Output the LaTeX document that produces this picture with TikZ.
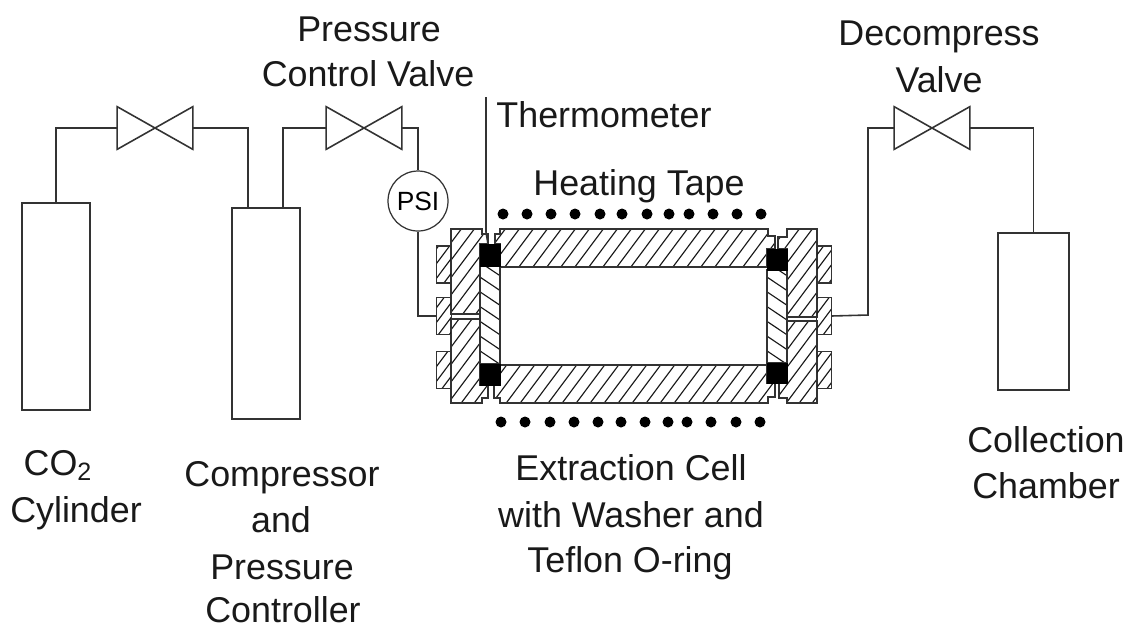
\documentclass[tikz,border=0pt]{standalone}
\usepackage{fontspec}
\setmainfont{Liberation Sans}
\tikzset{
	pipe/.style={draw=black!80,line width=0.9pt},
	vessel/.style={draw=black!80,line width=0.9pt,inner sep=0pt},
	valve/.style={inner sep=0pt,minimum width=1.5cm,minimum height=0.84cm},
	gauge/.style={circle,draw=black!80,line width=0.7pt,inner sep=0pt,minimum size=1.2cm,font=\fontsize{15}{17}\selectfont},
	outline/.style={draw=black!80,line width=0.9pt},
	hatchline/.style={draw=black!90,line width=0.65pt},
	bolt/.style={inner sep=0pt,minimum width=0.28cm,minimum height=0.72cm},
	oring/.style={fill=black,draw=black},
	heater/.style={circle,fill=black,inner sep=0pt,minimum size=0.22cm},
	lbl/.style={anchor=base,inner sep=0pt,text=black!90,font=\fontsize{20.4}{26}\selectfont},
}
% path, start, step, run of one line over the height of the cell
\newcommand{\hatched}[4]{
	\begin{scope}
		\clip #1;
		\foreach \i in {0,...,75}{
			\draw[hatchline] ({#2+\i*#3},410) -- ({#2+\i*#3+#4},220);
		}
	\end{scope}
	\draw[outline] #1;
}
\begin{document}
\begin{tikzpicture}[x=0.02cm,y=-0.02cm]
	\useasboundingbox (0,0) rectangle (1125,627);

	% vessels and valves
	\node[vessel,minimum width=1.36cm,minimum height=4.14cm] (cylCO) at (56,306.5) {};
	\node[vessel,minimum width=1.36cm,minimum height=4.22cm] (compressor) at (266,313.5) {};
	\node[vessel,minimum width=1.42cm,minimum height=3.14cm] (chamber) at (1033.5,311.5) {};
	\foreach \x/\n in {155/A, 364/B, 932/C}{
		\node[valve] (valve\n) at (\x,128) {};
		\draw[pipe] (valve\n.north west) -- (valve\n.south east) -- (valve\n.north east) -- (valve\n.south west) -- cycle;
	}
	\node[gauge] (psi) at (418,201) {PSI};

	% extraction cell
	\hatched{(500,229) -- (768,229) -- (768,236) -- (775,236) -- (775,249) -- (767,249) -- (767,267) -- (500,267) -- (500,244) -- (495,244) -- (495,234) -- (500,234) -- cycle}{300}{14}{142}
	\hatched{(500,403) -- (768,403) -- (768,397) -- (775,397) -- (775,383) -- (767,383) -- (767,365) -- (500,365) -- (500,385) -- (494,385) -- (494,398) -- (500,398) -- cycle}{305}{14}{142}
	\hatched{(451,229) -- (482,229) -- (482,234) -- (488,234) -- (488,244) -- (480,244) -- (480,314) -- (451,314) -- cycle}{300}{13}{142}
	\hatched{(451,319) -- (480,319) -- (480,385) -- (488,385) -- (488,398) -- (482,398) -- (482,403) -- (451,403) -- cycle}{300}{13}{142}
	\hatched{(817,229) -- (787,229) -- (787,237) -- (778,237) -- (778,249) -- (787,249) -- (787,317) -- (817,317) -- cycle}{300}{13}{142}
	\hatched{(787,321) -- (817,321) -- (817,403) -- (787,403) -- (787,398) -- (779,398) -- (779,383) -- (787,383) -- cycle}{300}{13}{142}
	\hatched{(480,266) rectangle (500,364)}{480}{22}{-283}
	\hatched{(767,270) rectangle (787,363)}{767}{22}{-283}
	\draw[oring] (480,244) rectangle (500,266);
	\draw[oring] (480,364) rectangle (500,385);
	\draw[oring] (767,249) rectangle (787,270);
	\draw[oring] (767,363) rectangle (787,383);
	\foreach \y/\n in {264.5/a, 316/b, 370/c}{
		\node[bolt] (boltL\n) at (444,\y) {};
		\node[bolt] (boltR\n) at (824,\y) {};
		\hatched{(boltL\n.south west) rectangle (boltL\n.north east)}{250}{11}{142}
		\hatched{(boltR\n.south west) rectangle (boltR\n.north east)}{250}{11}{142}
	}

	% heating tape
	\foreach \x in {503,527,551,575,600,622,647,669,689,713,737,761}{
		\node[heater] at (\x,214) {};
	}
	\foreach \x in {501,525,550,574,598,621,645,668,687,711,736,760}{
		\node[heater] at (\x,422) {};
	}

	% pipe work
	\coordinate (tapB) at (248,208);
	\coordinate (tapC) at (283,208);
	\coordinate (bendR) at (868,315);
	\coordinate (thermoTop) at (486,97);
	\coordinate (thermoEnd) at (488,244);
	\draw[pipe] (cylCO.north) |- (valveA.west);
	\draw[pipe] (valveA.east) -| (tapB);
	\draw[pipe] (tapC) |- (valveB.west);
	\draw[pipe] (valveB.east) -| (psi.north);
	\draw[pipe] (psi.south) |- (boltLb.west);
	\draw[pipe] (boltRb.east) -- (bendR) |- (valveC.west);
	\draw[pipe] (valveC.east) -| (chamber.north);
	\draw[pipe] (thermoTop) -- (486,232) -- (thermoEnd);

	% labels
	\foreach \x/\y/\t [count=\i] in {369/41/Pressure, 368/86/Control Valve, 604/127/Thermometer, 639/195/Heating Tape, 631/480/Extraction Cell, 631/527/with Washer and, 630/572/Teflon O-ring, 939/45/Decompress, 939/92/Valve, 1046/452/Collection, 1046/498/Chamber, 58/475/CO\textsubscript{2}, 76/522/Cylinder, 282/486/Compressor, 281/532/and, 282/579/Pressure, 283/622/Controller}{
		\node[lbl] (label\i) at (\x,\y) {\t};
	}
\end{tikzpicture}
\end{document}
